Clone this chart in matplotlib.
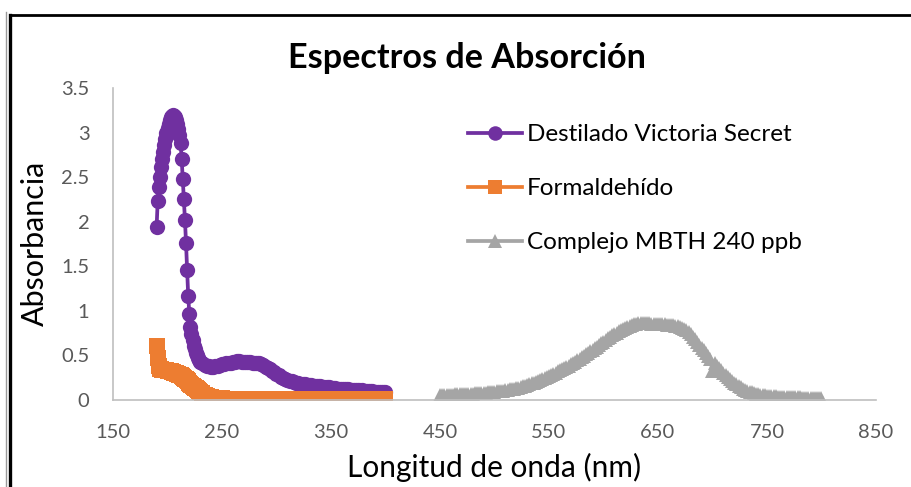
import matplotlib
matplotlib.use("Agg")
import matplotlib.pyplot as plt
from matplotlib.lines import Line2D

plt.rcParams['font.family'] = ['Lato', 'DejaVu Sans']

# ---------------- data ----------------
wl_uv = list(range(190, 231)) + list(range(232, 401, 2))

destilado = [
    1.94, 2.23, 2.39, 2.50, 2.61, 2.70, 2.78, 2.86, 2.93, 2.99,
    3.05, 3.10, 3.14, 3.17, 3.19, 3.20, 3.19, 3.17, 3.14, 3.10,
    3.04, 2.97, 2.88, 2.70, 2.48, 2.25, 2.02, 1.76, 1.46, 1.17,
    0.97, 0.82, 0.74, 0.67, 0.61, 0.57, 0.53, 0.50, 0.47, 0.45,
    0.43,
    0.41, 0.39, 0.385, 0.38, 0.375, 0.375, 0.38, 0.385, 0.39, 0.40,
    0.405, 0.41, 0.415, 0.42, 0.425, 0.43, 0.432, 0.432, 0.43, 0.428,
    0.425, 0.423, 0.422, 0.42, 0.418, 0.415, 0.41, 0.40, 0.39, 0.375,
    0.36, 0.345, 0.328, 0.31, 0.293, 0.277, 0.262, 0.248, 0.236, 0.225,
    0.216, 0.208, 0.201, 0.195, 0.19, 0.185, 0.181, 0.177, 0.173, 0.169,
    0.165, 0.162, 0.159, 0.156, 0.153, 0.150, 0.147, 0.144, 0.141, 0.138,
    0.135, 0.132, 0.129, 0.127, 0.125, 0.123, 0.121, 0.119, 0.117, 0.115,
    0.113, 0.111, 0.109, 0.107, 0.105, 0.103, 0.101, 0.099, 0.097, 0.095,
    0.093, 0.091, 0.089, 0.087, 0.085,
]

formaldehido = [
    0.61, 0.47, 0.38, 0.35, 0.345, 0.342, 0.339, 0.336, 0.334, 0.332,
    0.33, 0.328, 0.325, 0.322, 0.318, 0.313, 0.308, 0.303, 0.298, 0.293,
    0.287, 0.281, 0.275, 0.268, 0.26, 0.25, 0.24, 0.23, 0.22, 0.208,
    0.195, 0.183, 0.17, 0.16, 0.15, 0.14, 0.13, 0.12, 0.11, 0.101,
    0.092,
    0.075, 0.060, 0.047, 0.037, 0.030, 0.025, 0.022, 0.020, 0.018, 0.017,
    0.016, 0.016, 0.015, 0.015, 0.015, 0.015, 0.014, 0.014, 0.014, 0.014,
    0.014, 0.013, 0.013, 0.013, 0.013, 0.013, 0.013, 0.012, 0.012, 0.012,
    0.012, 0.012, 0.012, 0.012, 0.012, 0.011, 0.011, 0.011, 0.011, 0.011,
    0.011, 0.011, 0.011, 0.011, 0.011, 0.010, 0.010, 0.010, 0.010, 0.010,
    0.010, 0.010, 0.010, 0.010, 0.010, 0.010, 0.010, 0.010, 0.010, 0.010,
    0.010, 0.010, 0.010, 0.010, 0.010, 0.009, 0.009, 0.009, 0.009, 0.009,
    0.009, 0.009, 0.009, 0.009, 0.009, 0.009, 0.009, 0.009, 0.009, 0.009,
    0.009, 0.009, 0.009, 0.009, 0.009,
]

wl_vis = list(range(450, 801, 2))

complejo = [
    0.055, 0.056, 0.057, 0.058, 0.059, 0.060, 0.061, 0.062, 0.063, 0.064,
    0.065, 0.066, 0.068, 0.069, 0.071, 0.072, 0.074, 0.076, 0.078, 0.080,
    0.082, 0.084, 0.086, 0.088, 0.090, 0.093, 0.096, 0.099, 0.102, 0.106,
    0.110, 0.114, 0.118, 0.123, 0.128, 0.134, 0.140, 0.147, 0.154, 0.162,
    0.170, 0.178, 0.187, 0.196, 0.206, 0.216, 0.227, 0.238, 0.249, 0.260,
    0.272, 0.284, 0.296, 0.308, 0.320, 0.333, 0.346, 0.359, 0.372, 0.386,
    0.400, 0.415, 0.430, 0.445, 0.461, 0.477, 0.494, 0.511, 0.528, 0.546,
    0.564, 0.582, 0.600, 0.618, 0.636, 0.654, 0.672, 0.690, 0.707, 0.724,
    0.740, 0.756, 0.771, 0.785, 0.798, 0.810, 0.822, 0.833, 0.843, 0.852,
    0.858, 0.862, 0.864, 0.865, 0.864, 0.862, 0.860, 0.858, 0.856, 0.854,
    0.852, 0.850, 0.849, 0.848, 0.846, 0.844, 0.841, 0.838, 0.834, 0.828,
    0.820, 0.810, 0.797, 0.780, 0.760, 0.736, 0.710, 0.682, 0.652, 0.620,
    0.588, 0.556, 0.524, 0.494, 0.464, 0.330, 0.410, 0.385, 0.360, 0.334,
    0.308, 0.283, 0.259, 0.236, 0.214, 0.194, 0.176, 0.159, 0.143, 0.129,
    0.116, 0.104, 0.094, 0.085, 0.077, 0.070, 0.064, 0.059, 0.055, 0.051,
    0.048, 0.046, 0.044, 0.042, 0.040, 0.039, 0.038, 0.037, 0.036, 0.035,
    0.034, 0.033, 0.032, 0.031, 0.030, 0.029, 0.028, 0.027, 0.026, 0.025,
    0.024, 0.023, 0.022, 0.021, 0.020, 0.020,
]

series_names = ["Destilado Victoria Secret", "Formaldehído", "Complejo MBTH 240 ppb"]
x_ticks = [150, 250, 350, 450, 550, 650, 750, 850]
y_ticks = [0, 0.5, 1, 1.5, 2, 2.5, 3, 3.5]
y_tick_labels = ["0", "0.5", "1", "1.5", "2", "2.5", "3", "3.5"]
title = "Espectros de Absorción"
x_label = "Longitud de onda (nm)"
y_label = "Absorbancia"

# ---------------- figure ----------------
W, H = 912, 487
fig = plt.figure(figsize=(W / 100, H / 100), dpi=100)
ax = fig.add_axes([113 / W, 1 - 400 / H, (876 - 113) / W, (400 - 88) / H])

ax.plot(wl_uv, destilado, color="#7030A0", lw=2.7, marker="o", ms=11, mew=0,
        label=series_names[0])
ax.plot(wl_uv, formaldehido, color="#ED7D31", lw=2.7, marker="s", ms=11, mew=0,
        label=series_names[1])
ax.plot(wl_vis, complejo, color="#A5A5A5", lw=2.7, marker="^", ms=10.5, mew=0,
        label=series_names[2])

ax.set_xlim(150, 850)
ax.set_ylim(0, 3.5)
ax.set_xticks(x_ticks)
ax.set_xticklabels([str(v) for v in x_ticks])
ax.set_yticks(y_ticks)
ax.set_yticklabels(y_tick_labels)
ax.tick_params(length=0, labelsize=14.5, labelcolor="#595959")
ax.tick_params(axis="y", pad=17)
ax.tick_params(axis="x", pad=17)
for s in ["top", "right"]:
    ax.spines[s].set_visible(False)
for s in ["left", "bottom"]:
    ax.spines[s].set_color("#BFBFBF")
    ax.spines[s].set_linewidth(1.2)

ax.text((467 - 113) / 763, (400 - 58) / 312, title, transform=ax.transAxes,
        ha="center", va="center", fontsize=24.6, fontweight="bold", color="black")
ax.set_xlabel(x_label, fontsize=21.5, color="black")
ax.xaxis.label.set_va("center")
ax.xaxis.set_label_coords((494 - 113) / 763, (400 - 467) / 312)
ax.set_ylabel(y_label, fontsize=22, color="black")
ax.yaxis.label.set_va("center")
ax.yaxis.set_label_coords((35 - 113) / 763, (400 - 243) / 312)

leg = ax.legend(loc="upper left", bbox_to_anchor=(468 / W, 1 - 124 / H),
                bbox_transform=fig.transFigure, frameon=False, fontsize=17.5,
                handlelength=2.22, handletextpad=0.2, labelspacing=1.36,
                borderpad=0, borderaxespad=0, markerscale=0.95)
for t in leg.get_texts():
    t.set_color("black")

# outer chart frame
fig.add_artist(Line2D([10.5 / W, 1.0], [1 - 14.5 / H, 1 - 14.5 / H],
                      transform=fig.transFigure, color="black", lw=2))
fig.add_artist(Line2D([10.5 / W, 10.5 / W], [0, 1 - 14.5 / H],
                      transform=fig.transFigure, color="black", lw=2.4))
fig.add_artist(Line2D([6.5 / W, 6.5 / W], [0, 1 - 12 / H],
                      transform=fig.transFigure, color="#9A9A9A", lw=1))

fig.savefig("out.png", dpi=100)
